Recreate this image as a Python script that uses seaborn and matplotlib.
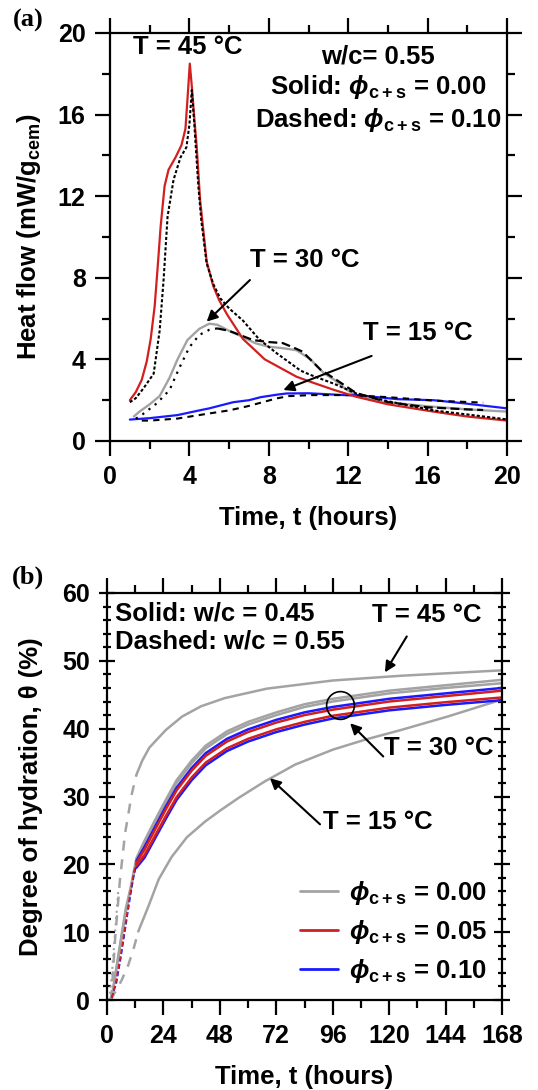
import numpy as np
import pandas as pd
import matplotlib
matplotlib.use("Agg")
import matplotlib.pyplot as plt
import seaborn as sns
from matplotlib.lines import Line2D
from matplotlib.ticker import MultipleLocator

sns.set_style("ticks")
plt.rcParams['font.family'] = ['Liberation Sans', 'DejaVu Sans']
plt.rcParams['font.weight'] = 'bold'
plt.rcParams['axes.labelweight'] = 'bold'
plt.rcParams['text.color'] = 'black'
plt.rcParams['axes.labelcolor'] = 'black'
plt.rcParams['xtick.color'] = 'black'
plt.rcParams['ytick.color'] = 'black'
plt.rcParams['axes.edgecolor'] = 'black'
plt.rcParams['mathtext.fontset'] = 'custom'
plt.rcParams['mathtext.rm'] = 'Liberation Sans:bold'
plt.rcParams['mathtext.it'] = 'Liberation Sans:italic:bold'
plt.rcParams['mathtext.bf'] = 'Liberation Sans:bold'
plt.rcParams['mathtext.sf'] = 'Liberation Sans:bold'

# ---------------- Panel (a): heat flow, w/c = 0.55 ----------------
t45_s = [1.0, 1.3, 1.6, 1.85, 2.05, 2.25, 2.4, 2.55, 2.75, 2.95, 3.3, 3.6, 3.8, 3.92, 4.02,
         4.12, 4.25, 4.37, 4.54, 4.87, 5.2, 5.5, 5.9, 6.7, 7.8, 9.4, 10.1, 11.3, 12.4, 14.0,
         16.3, 18.0, 20.0]
q45_s = [2.0, 2.4, 3.0, 3.9, 5.0, 6.6, 8.5, 10.5, 12.5, 13.3, 13.9, 14.5, 15.3, 17.0, 18.5,
         17.4, 15.8, 14.4, 11.8, 8.8, 7.6, 6.9, 6.2, 5.0, 4.0, 3.15, 2.9, 2.5, 2.17, 1.8,
         1.44, 1.2, 1.0]
t45_d = [1.0, 1.3, 1.7, 2.2, 2.5, 2.7, 2.9, 3.2, 3.55, 3.85, 4.0, 4.12, 4.25, 4.45, 4.6,
         4.87, 5.2, 5.55, 6.0, 6.7, 7.5, 8.4, 9.6, 10.1, 11.3, 12.4, 14.0, 16.3, 18.0, 20.0]
q45_d = [1.9, 2.1, 2.6, 3.3, 5.4, 7.9, 11.0, 12.8, 13.9, 14.4, 15.5, 17.2, 15.5, 12.5, 10.8,
         8.7, 7.7, 7.0, 6.5, 5.9, 5.0, 4.3, 3.45, 3.24, 2.8, 2.33, 1.95, 1.5, 1.3, 1.06]
t30_s = [1.2, 1.5, 2.0, 2.5, 3.0, 3.4, 3.9, 4.5, 5.0, 5.4, 6.0, 6.7, 7.3, 8.0, 8.7, 9.4,
         10.1, 10.8, 11.3, 11.8, 12.4, 13.5, 14.6, 16.0, 18.0, 20.0]
q30_s = [1.2, 1.45, 1.8, 2.2, 3.1, 4.0, 4.95, 5.5, 5.75, 5.7, 5.4, 5.1, 4.8, 4.62, 4.55, 4.45,
         4.0, 3.3, 3.0, 2.6, 2.2, 1.95, 1.84, 1.7, 1.55, 1.44]
t30_d1 = [1.3, 1.5, 2.35, 3.0, 3.5, 4.0, 4.5, 5.0, 5.4]
q30_d1 = [1.1, 1.2, 1.84, 2.5, 3.6, 4.6, 5.2, 5.45, 5.52]
t30_d2 = [5.4, 6.0, 7.2, 8.0, 8.7, 9.2, 9.7, 10.6, 11.4, 12.4, 14.0, 16.0, 18.0, 18.8]
q30_d2 = [5.52, 5.4, 4.95, 4.85, 4.8, 4.6, 4.38, 3.5, 3.0, 2.35, 1.9, 1.65, 1.55, 1.52]
t15_s = [1.0, 2.0, 3.4, 4.5, 5.0, 6.2, 7.0, 7.6, 8.4, 8.9, 10.0, 11.8, 12.4, 14.5, 16.3, 17.8, 20.0]
q15_s = [1.05, 1.12, 1.27, 1.5, 1.6, 1.9, 2.0, 2.15, 2.27, 2.33, 2.34, 2.25, 2.25, 2.05, 2.0, 1.85, 1.6]
t15_d = [1.6, 2.0, 3.4, 5.0, 6.0, 7.0, 8.4, 9.0, 10.1, 12.0, 14.0, 16.3, 18.8]
q15_d = [1.0, 1.0, 1.1, 1.35, 1.5, 1.72, 2.09, 2.2, 2.25, 2.25, 2.15, 1.98, 1.88]

xticks_a = [0, 4, 8, 12, 16, 20]
yticks_a = [0, 4, 8, 12, 16, 20]

# ---------------- Panel (b): degree of hydration ----------------
tb45_d = [1.5, 2.0, 3.4, 5.5, 7.7, 10.5, 12.5]
hb45_d = [0.0, 1.0, 8.8, 17.7, 24.6, 30.3, 33.2]
tb45_s = [12.5, 15.0, 18.0, 25.0, 32.0, 40.0, 50.0, 68.0, 96.0, 125.0, 168.0]
hb45_s = [33.2, 35.3, 37.2, 39.8, 41.8, 43.3, 44.5, 45.9, 47.1, 47.8, 48.6]
tb_dot = [1.0, 2.0, 3.0, 4.0, 4.8]
hb_dot = [0.0, 3.5, 8.0, 12.5, 16.2]
tb30 = [2.0, 5.0, 8.0, 10.0, 12.5, 16.0, 20.4, 25.0, 29.6, 36.0, 42.0, 51.0, 60.0, 72.0,
        84.0, 96.0, 120.0, 144.0, 168.0]
hb30_g1 = [0.3, 7.0, 13.5, 16.5, 20.9, 23.5, 26.5, 29.5, 32.4, 35.3, 37.5, 39.6, 41.0, 42.4,
           43.6, 44.4, 45.6, 46.4, 47.2]
hb30_g2 = [0.3, 6.6, 13.0, 16.1, 20.6, 23.1, 26.1, 29.1, 32.0, 34.9, 37.1, 39.2, 40.6, 42.0,
           43.2, 44.0, 45.2, 46.0, 46.7]
tc_e = [2.0, 4.0, 6.0, 8.0, 10.0, 11.5, 12.5]
hr_e = [0.3, 3.0, 7.0, 11.5, 16.0, 19.0, 20.2]
hbl_e = [0.3, 2.5, 6.5, 11.0, 15.5, 18.5, 19.8]
tc = [12.5, 16.0, 20.4, 25.0, 29.6, 36.0, 42.0, 51.0, 60.0, 72.0, 84.0, 96.0, 120.0, 144.0, 168.0]
hb1 = [20.5, 22.6, 25.5, 28.5, 31.3, 34.2, 36.4, 38.5, 39.9, 41.3, 42.4, 43.2, 44.4, 45.2, 46.0]
hr1 = [20.2, 22.2, 25.1, 28.1, 30.9, 33.8, 36.0, 38.1, 39.5, 40.9, 42.0, 42.8, 44.0, 44.8, 45.6]
hr2 = [19.8, 21.4, 24.2, 27.1, 29.9, 32.8, 35.0, 37.1, 38.5, 39.9, 41.0, 41.9, 43.1, 43.9, 44.6]
hb2 = [19.5, 21.0, 23.8, 26.7, 29.5, 32.4, 34.6, 36.7, 38.1, 39.5, 40.6, 41.5, 42.7, 43.5, 44.2]
tb15_d = [1.5, 2.0, 4.0, 6.2, 9.1, 11.5, 13.3]
hb15_d = [0.0, 0.3, 1.5, 2.9, 5.2, 7.8, 10.1]
tb15_s = [13.3, 17.6, 22.0, 27.5, 34.0, 41.7, 48.0, 56.0, 67.0, 80.0, 96.0, 110.0, 125.0, 145.0, 168.0]
hb15_s = [10.1, 13.8, 17.8, 21.1, 24.0, 26.3, 27.9, 29.8, 32.2, 34.7, 36.9, 38.4, 39.8, 41.8, 44.3]

xticks_b = [0, 24, 48, 72, 96, 120, 144, 168]
yticks_b = [0, 10, 20, 30, 40, 50, 60]
legend_labels = [r"$\phi_{\mathrm{c+s}}$ = 0.00", r"$\phi_{\mathrm{c+s}}$ = 0.05",
                 r"$\phi_{\mathrm{c+s}}$ = 0.10"]

GRAY = '#a3a3a3'
RED = '#d21f1f'
BLUE = '#1a1aff'
FS = 18.5


def draw(ax, t, v, color, ls='-', lw=1.6):
    sns.lineplot(x=t, y=v, ax=ax, color=color, linestyle=ls, lw=lw,
                 estimator=None, sort=False, legend=False)


fig = plt.figure(figsize=(5.38, 10.9), dpi=100)
axa = fig.add_axes([110 / 538, 1 - 441 / 1090, 397 / 538, 408 / 1090])
axb = fig.add_axes([107 / 538, 1 - 1000 / 1090, 395 / 538, 407 / 1090])

# ---- panel a curves
draw(axa, t30_s, q30_s, GRAY, '-', 1.7)
draw(axa, t15_s, q15_s, BLUE, '-', 1.6)
draw(axa, t15_d, q15_d, 'k', (0, (3, 2.5)), 1.5)
draw(axa, t30_d1, q30_d1, 'k', (0, (1, 2.5)), 1.6)
draw(axa, t30_d2, q30_d2, 'k', (0, (4, 2)), 1.6)
draw(axa, t45_s, q45_s, RED, '-', 1.6)
draw(axa, t45_d, q45_d, 'k', (0, (1.5, 1)), 1.5)

axa.set_xlim(0, 20)
axa.set_ylim(0, 20)
axa.set_xticks(xticks_a)
axa.set_yticks(yticks_a)
axa.xaxis.set_minor_locator(MultipleLocator(2))
axa.yaxis.set_minor_locator(MultipleLocator(2))
axa.set_xlabel("Time, t (hours)", fontsize=FS, labelpad=12)
axa.set_ylabel(r"Heat flow (mW/g$_{\mathrm{cem}}$)", fontsize=FS, labelpad=11)

axa.text(3.9, 19.3, "T = 45 °C", fontsize=FS, ha='center', va='center')
axa.text(13.5, 18.87, "w/c= 0.55", fontsize=FS, ha='center', va='center')
axa.text(13.5, 17.35, r"Solid: $\phi_{\mathrm{c+s}}$ = 0.00", fontsize=FS, ha='center', va='center')
axa.text(13.5, 15.75, r"Dashed: $\phi_{\mathrm{c+s}}$ = 0.10", fontsize=FS, ha='center', va='center')
axa.text(9.8, 8.87, "T = 30 °C", fontsize=FS, ha='center', va='center')
axa.text(15.5, 5.3, "T = 15 °C", fontsize=FS, ha='center', va='center')
arr = dict(arrowstyle='-|>', color='k', lw=1.5, mutation_scale=16, shrinkA=0, shrinkB=0)
axa.annotate("", xy=(4.87, 5.85), xytext=(7.05, 7.89), arrowprops=arr)
axa.annotate("", xy=(8.73, 2.5), xytext=(13.18, 4.17), arrowprops=arr)

# ---- panel b curves
draw(axb, tb_dot, hb_dot, GRAY, (0, (1, 2)), 1.5)
draw(axb, tb45_d, hb45_d, GRAY, (0, (4, 3.5)), 1.8)
draw(axb, tb45_s, hb45_s, GRAY, '-', 1.8)
draw(axb, tb15_d, hb15_d, GRAY, (0, (4, 3.5)), 1.8)
draw(axb, tb15_s, hb15_s, GRAY, '-', 1.8)
draw(axb, tb30, hb30_g1, GRAY, '-', 1.8)
draw(axb, tb30, hb30_g2, GRAY, '-', 1.8)
draw(axb, tc_e, hbl_e, BLUE, (0, (3, 1.5)), 1.2)
draw(axb, tc_e, hr_e, RED, (0, (3, 1.5)), 1.2)
draw(axb, tc, hb1, BLUE, '-', 1.8)
draw(axb, tc, hb2, BLUE, '-', 1.8)
draw(axb, tc, hr1, RED, '-', 1.8)
draw(axb, tc, hr2, RED, '-', 1.8)

axb.set_xlim(0, 168)
axb.set_ylim(0, 60)
axb.set_xticks(xticks_b)
axb.set_yticks(yticks_b)
axb.xaxis.set_minor_locator(MultipleLocator(12))
axb.yaxis.set_minor_locator(MultipleLocator(2))
axb.set_xlabel("Time, t (hours)", fontsize=FS, labelpad=12)
axb.set_ylabel("Degree of hydration, θ (%)", fontsize=FS, labelpad=14)

axb.text(3.4, 57.05, "Solid: w/c = 0.45", fontsize=FS, ha='left', va='center')
axb.text(3.4, 52.8, "Dashed: w/c = 0.55", fontsize=FS, ha='left', va='center')
axb.text(136, 56.75, "T = 45 °C", fontsize=FS, ha='center', va='center')
axb.text(141, 37.1, "T = 30 °C", fontsize=FS, ha='center', va='center')
axb.text(115.3, 26.3, "T = 15 °C", fontsize=FS, ha='center', va='center')
axb.annotate("", xy=(118.2, 48.3), xytext=(127.5, 53.6), arrowprops=arr)
axb.annotate("", xy=(103.4, 40.8), xytext=(117.5, 35.9), arrowprops=arr)
axb.annotate("", xy=(69.3, 32.7), xytext=(90.6, 25.9), arrowprops=arr)
axb.plot([99.1], [43.5], marker='o', ms=20, mfc='none', mec='k', mew=1.2)

handles = [Line2D([], [], color=GRAY, lw=2), Line2D([], [], color=RED, lw=2),
           Line2D([], [], color=BLUE, lw=2)]
axb.legend(handles, legend_labels, loc='lower right', bbox_to_anchor=(1.0, 0.0),
           frameon=False, fontsize=FS, handlelength=1.5, handletextpad=0.4,
           labelspacing=0.42, borderaxespad=0.2)

for ax in (axa, axb):
    for s in ax.spines.values():
        s.set_linewidth(1.6)
        s.set_visible(True)
        s.set_color('black')
    ax.tick_params(which='major', direction='out', length=11, width=1.6,
                   top=True, right=True, labelsize=18, pad=6.5, colors='black')
    ax.tick_params(which='minor', direction='out', length=6, width=1.6,
                   top=True, right=True, colors='black')
    ax.tick_params(labeltop=False, labelright=False)
    for lab in ax.get_xticklabels() + ax.get_yticklabels():
        lab.set_fontweight('bold')

axb.tick_params(axis='y', which='both', right=True, direction='inout')
axb.tick_params(axis='y', which='both', left=True)

fig.text(28 / 538, 1 - 20 / 1090, "(a)", fontsize=19, fontweight='bold',
         family='Liberation Serif', ha='center', va='center')
fig.text(28 / 538, 1 - 577 / 1090, "(b)", fontsize=19, fontweight='bold',
         family='Liberation Serif', ha='center', va='center')

fig.savefig("out.png", dpi=100)
